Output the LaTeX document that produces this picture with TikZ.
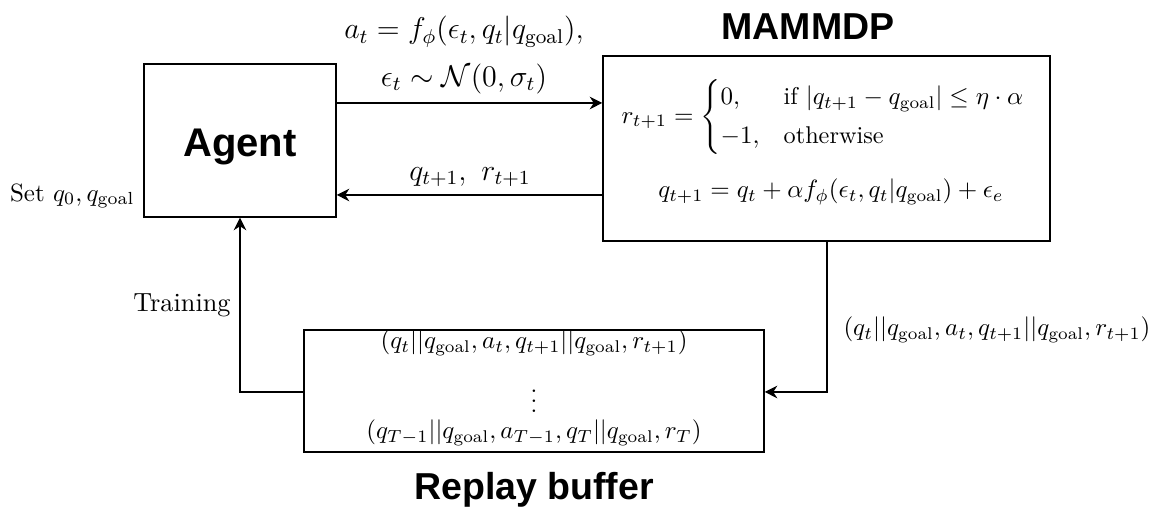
\documentclass[tikz,border=0pt]{standalone}
\usepackage{amsmath}
\usepackage{fontspec}
\newfontfamily\hsans{Liberation Sans}
\usetikzlibrary{arrows.meta}
\begin{document}
\begin{tikzpicture}[x=0.4pt,y=-0.4pt,
  box/.style={draw, line width=0.6pt, rectangle, inner sep=0pt},
  arr/.style={line width=0.6pt, -{Stealth[length=5pt,width=5pt,inset=1.6pt]}},
  ttl/.style={font=\hsans\bfseries\fontsize{15}{17}\selectfont, inner sep=0pt},
  mth/.style={font=\fontsize{12}{14}\selectfont, inner sep=0pt},
  inm/.style={font=\fontsize{9.7}{11.6}\selectfont, inner sep=0pt},
  txt/.style={font=\fontsize{10}{12}\selectfont, inner sep=0pt}]
\useasboundingbox (0,0) rectangle (1149,510);
% boxes
\node[box, minimum width=76.8pt, minimum height=61.2pt] (agent) at (240,140.5) {};
\node[ttl, font=\hsans\bfseries\fontsize{16}{18}\selectfont, anchor=base] (agentlbl) at (240,157) {Agent};
\node[box, minimum width=178.8pt, minimum height=74pt] (mdp) at (826.5,148.5) {};
\node[ttl] (mdplbl) at (808,27) {MAMMDP};
\node[box, minimum width=184pt, minimum height=48.8pt] (replay) at (534,391) {};
\node[ttl] (replaylbl) at (534,490) {Replay buffer};
% MDP content
\node[inm] (cases) at (824,117) {$r_{t+1}=\begin{cases}0, & \text{if } |q_{t+1}-q_{\mathrm{goal}}|\leq \eta\cdot\alpha\\[1.5pt] -1, & \text{otherwise}\end{cases}$};
\node[inm] (dyn) at (831,192) {$q_{t+1}=q_t+\alpha f_\phi(\epsilon_t,q_t|q_{\mathrm{goal}})+\epsilon_e$};
% replay content
\node[inm] (row1) at (534,343) {$(q_t||q_{\mathrm{goal}},a_t,q_{t+1}||q_{\mathrm{goal}},r_{t+1})$};
\node[inm] (dots) at (534,394) {$\smash{\raisebox{-0.5\height}{$\vdots$}}$};
\node[inm] (row2) at (534,433) {$(q_{T-1}||q_{\mathrm{goal}},a_{T-1},q_T||q_{\mathrm{goal}},r_T)$};
% coordinates
\coordinate (ctop) at (470,103);
\coordinate (cbot) at (470,195);
\coordinate (cr) at (827,392);
\coordinate (cl) at (240,392);
% connectors
\draw[arr] (agent.east |- ctop) -- (mdp.west |- ctop);
\draw[arr] (mdp.west |- cbot) -- (agent.east |- cbot);
\draw[arr] (mdp.south -| cr) -- (cr) -- (replay.east |- cr);
\draw[arr] (replay.west |- cl) -- (cl) -- (agent.south -| cl);
% labels
\node[mth] (act1) at (464,32) {$a_t=f_\phi(\epsilon_t,q_t|q_{\mathrm{goal}}),$};
\node[mth] (act2) at (464,79) {$\epsilon_t\sim\mathcal{N}(0,\sigma_t)$};
\node[mth] (obs) at (470,177) {$q_{t+1},\ r_{t+1}$};
\node[txt, anchor=east] (setq) at (135,196) {Set $q_0,q_{\mathrm{goal}}$};
\node[txt, font=\fontsize{10.5}{12.6}\selectfont, anchor=east] (train) at (231,305) {Training};
\node[inm, anchor=west] (trans) at (843,330) {$(q_t||q_{\mathrm{goal}},a_t,q_{t+1}||q_{\mathrm{goal}},r_{t+1})$};
\end{tikzpicture}
\end{document}
